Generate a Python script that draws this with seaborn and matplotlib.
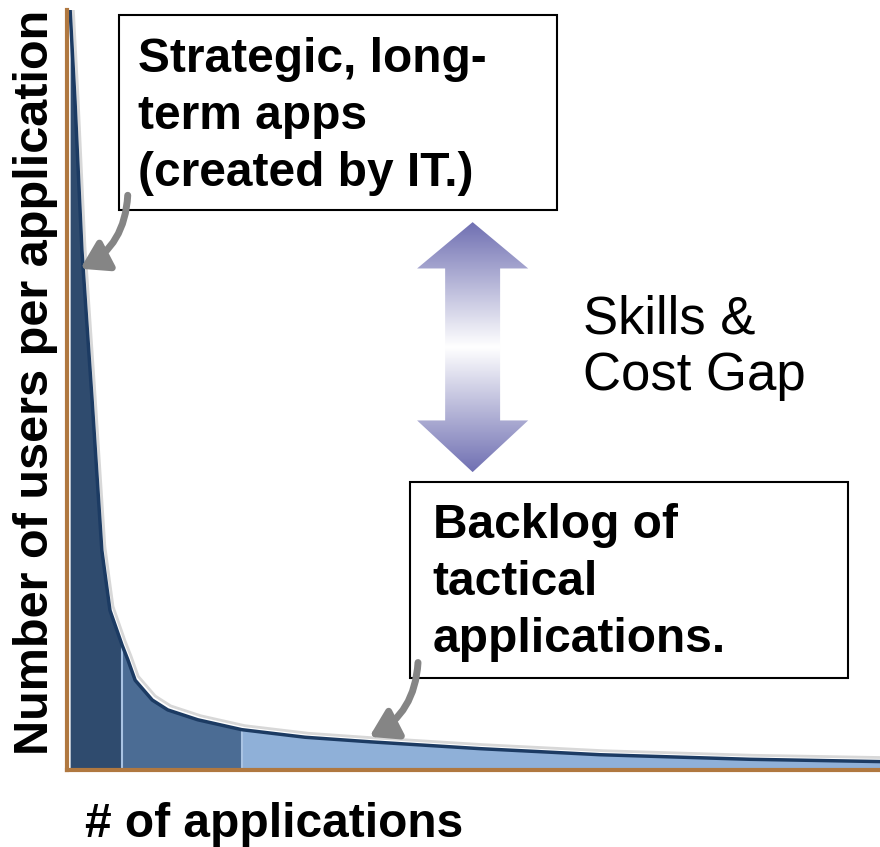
import numpy as np
import pandas as pd
import matplotlib.pyplot as plt
import seaborn as sns
from matplotlib.patches import Polygon, FancyArrowPatch, Rectangle
from matplotlib import transforms

# long tail curve (x: rank of application, y: users)
apps = [0.4, 1.0, 1.85, 3.1, 4.3, 5.3, 6.8, 7.5, 8.4, 10.5, 12.4, 16.1, 21.5, 29.3, 37.3, 50.8, 65.6, 84.0, 100.0]
users = [100.0, 88.0, 68.4, 48.7, 28.9, 21.0, 16.4, 14.5, 11.8, 9.2, 7.9, 6.6, 5.3, 4.3, 3.7, 2.8, 2.0, 1.4, 1.1]

# segment borders
borders = [6.8, 21.5]
seg_colors = ['#2f4b6e', '#4b6c94', '#8fb0d8']

x_label = '# of applications'
y_label = 'Number of users per application'
top_note = ['Strategic, long-', 'term apps', '(created by IT.)']
bottom_note = ['Backlog of', 'tactical', 'applications.']
gap_note = ['Skills &', 'Cost Gap']

df = pd.DataFrame({'apps': apps, 'users': users})

sns.set_style('white')
plt.rcParams['font.family'] = ['Liberation Sans', 'DejaVu Sans']
plt.rcParams['text.color'] = 'black'

fig = plt.figure(figsize=(8.8, 8.47), dpi=100)
ax = fig.add_axes([0.076, 0.091, 0.924, 0.897])

# shaded segments under the curve
x = df['apps'].values
y = df['users'].values
lims = [0] + borders + [100]
for i in range(3):
    m = (x >= lims[i]) & (x <= lims[i + 1])
    ax.fill_between(x[m], 0, y[m], color=seg_colors[i], lw=0)
for b in borders:
    ax.vlines(b, 0, np.interp(b, x, y), color='#a9c3e3', lw=1.5)

# faint highlight just above the curve
off = transforms.offset_copy(ax.transData, fig=fig, x=3, y=4, units='dots')
ax.plot(x, y, color='#d8d8d8', lw=2, transform=off)
sns.lineplot(data=df, x='apps', y='users', color='#1c3b63', lw=2.5, ax=ax, sort=False)

ax.set_xlim(0, 100)
ax.set_ylim(0, 100)
ax.set_xticks([])
ax.set_yticks([])
ax.set_xlabel('')
ax.set_ylabel('')
for s in ['top', 'right']:
    ax.spines[s].set_visible(False)
for s in ['left', 'bottom']:
    ax.spines[s].set_color('#b07840')
    ax.spines[s].set_linewidth(3)

fig.text(0.040, 0.549, y_label, rotation=90, ha='center', va='center',
         fontsize=35, fontweight='bold')
fig.text(0.097, 0.026, x_label, ha='left', va='center', fontsize=34.5, fontweight='bold')


def note(x0, x1, y0, y1, tx, baselines, lines, **kw):
    if x0 is not None:
        ax.add_patch(Rectangle((x0, y0), x1 - x0, y1 - y0, fc='white', ec='black',
                               lw=1.5, zorder=4))
    for yb, line in zip(baselines, lines):
        ax.text(tx, yb, line, ha='left', va='baseline', zorder=5, **kw)


note(6.4, 60.3, 73.7, 99.3, 8.73, [91.8, 84.3, 76.8], top_note,
     fontsize=34.5, fontweight='bold')
note(42.2, 96.1, 12.1, 37.9, 45.0, [30.5, 23.0, 15.5], bottom_note,
     fontsize=34.5, fontweight='bold')
note(None, None, None, None, 63.5, [57.5, 50.0], gap_note, fontsize=38)

# gray pointer arrows
for start, end in [((7.5, 76.0), (1.35, 65.8)), ((43.2, 14.5), (36.9, 4.2))]:
    ax.add_patch(FancyArrowPatch(start, end, connectionstyle='arc3,rad=-0.3',
                                 arrowstyle='-|>,head_length=0.8,head_width=0.5',
                                 mutation_scale=20, color='#858585', lw=5, zorder=6))

# double arrow with gradient fill
cx, hw, sw = 49.9, 6.83, 3.38
ytop, yh1, yh2, ybot = 72.1, 66.0, 46.0, 39.2
pts = [(cx, ytop), (cx + hw, yh1), (cx + sw, yh1), (cx + sw, yh2), (cx + hw, yh2),
       (cx, ybot), (cx - hw, yh2), (cx - sw, yh2), (cx - sw, yh1), (cx - hw, yh1)]
poly = Polygon(pts, closed=True, fc='none', ec='none')
ax.add_patch(poly)
t = np.linspace(0, 1, 256)
g = np.abs(t - 0.5) * 2
c0 = np.array([1.0, 1.0, 1.0])
c1 = np.array([0.44, 0.44, 0.70])
img = (c0[None, :] * (1 - g[:, None]) + c1[None, :] * g[:, None])[:, None, :]
im = ax.imshow(img, extent=[cx - hw, cx + hw, ybot, ytop], origin='lower',
               aspect='auto', zorder=3)
im.set_clip_path(poly)

fig.savefig('out.png', dpi=100)
